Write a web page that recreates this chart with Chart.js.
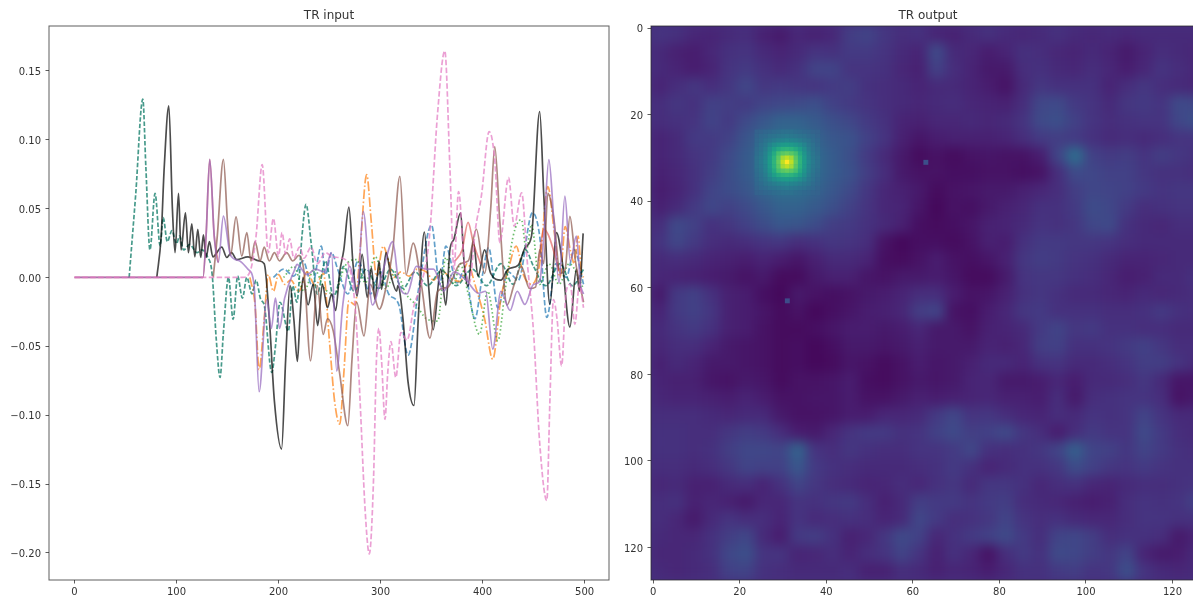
<!DOCTYPE html>
<html>
<head>
<meta charset="utf-8">
<title>TR input / TR output</title>
<script src="https://cdn.jsdelivr.net/npm/chart.js@4"></script>
<style>
html, body { margin: 0; padding: 0; width: 1193px; height: 596px; overflow: hidden; background: #fff; }
#left { position: absolute; left: 0; top: 0; }
#right { position: absolute; left: 620px; top: 0; }
/* plot rectangle of the right panel, the soft cells live in here */
#heatbox { position: absolute; left: 651px; top: 26px; width: 554px; height: 554px; overflow: hidden; background: #46307e; }
#heat { position: absolute; left: 0; top: 0; filter: blur(6px); }
</style>
</head>
<body>
<canvas id="left" width="625" height="596"></canvas>
<div id="heatbox"><canvas id="heat" width="554" height="554"></canvas></div>
<canvas id="right" width="600" height="596"></canvas>
<script>
//Line traces as [sample, amplitude] at the turning points
const blueTrace = [[195,0],[205,.006],[215,.001],[224,.012],[233,-.006],[242,.0227],[246,.002],[252,.018],[258,.006],[268,-.012],[278,.012],[290,-.012],[300,.004],[308,-.012],[318,-.02],[327,-.0565],[338,-.005],[350,.038],[358,-.005],[364,.0227],[375,-.004],[382,.005],[392.5,-.03],[400,.002],[406,.0217],[415,-.022],[425,.004],[435,-.002],[449,.047],[456,.03],[463,-.029],[472,.01],[482,0],[490,.02],[499,-.005]];
const orangeTrace = [[172,0],[177,-.02],[181,-.067],[186,-.03],[190,.002],[195,-.01],[200,.002],[206,-.005],[212,-.002],[220,-.01],[228,.004],[236,-.006],[244,.003],[250,-.047],[255,-.09],[260,-.1065],[264,-.07],[269,-.017],[275,-.02],[280,.02],[286.4,.0746],[291,.04],[296,.001],[302.6,.0227],[308,.012],[313,0],[320,.004],[328,.001],[336,.006],[345,.004],[352,-.002],[360,.005],[368,0],[378,-.003],[385,.01],[394,-.0087],[402,-.03],[410,-.0594],[418,-.015],[425,.005],[433,.0227],[440,.002],[448,-.005],[456,.01],[464,.066],[470,.035],[476,0],[481,.037],[486,.02],[490,.01],[493.6,.03],[497,.003],[499,0]];
const greenTrace = [[205,0],[215,.008],[225,-.01],[235,.006],[245,-.008],[255,-.012],[265,.008],[276.6,.013],[285,-.004],[295,.015],[305,-.008],[315,.004],[325,-.012],[335,-.02],[345,-.03],[356,-.0317],[364,.0145],[372,-.005],[378,.01],[386,-.012],[397,-.0413],[405,-.01],[415,-.046],[422,-.01],[430,.03],[438,.042],[443,.02],[448,.0385],[456,-.005],[465,.01],[475,-.005],[485,.01],[499,-.008]];
//Red only shows where nothing covers it, null leaves the hidden stretches out
const redTrace = [[0,0],[126,0],[129,.03],[132.6,.0858],[137,.03],[141,.011],[142,null],[372,null],[373,.012],[380,.02],[385.8,.04],[391,.025],[398,.01],[399,null],[454,null],[455,.012],[460,.035],[465,.03],[475,.005],[476,null]];
const purpleTrace = [[0,0],[126,0],[129,.03],[132.6,.0858],[137,.03],[141,.011],[146,.0445],[153,.016],[162,.012],[170,.006],[176,-.005],[181,-.083],[188.5,-.016],[193,-.037],[197,-.015],[201,-.037],[206,-.015],[216,.006],[218,.0095],[228,.002],[236,.006],[245,.004],[252,.018],[257,-.068],[263,-.02],[270,.008],[277,-.012],[283,.048],[292,-.02],[302,.004],[312,.026],[318,-.005],[326,-.012],[335,.008],[345,.006],[352,.006],[362,-.01],[372,.004],[384,-.002],[396,-.0115],[403,-.01],[410,-.052],[418,-.01],[427,-.024],[434,-.01],[441.5,-.0196],[450,-.005],[456,-.003],[460,.03],[465,.0855],[470,.04],[475,-.004],[480.7,.059],[486,.012],[492,.03],[496,-.005],[499,-.012]];
const brownTrace = [[136,0],[140,.03],[146,.0858],[150,.04],[153,.016],[158.4,.044],[164,.0155],[169,.0326],[173,.012],[177,.026],[182,.012],[186,.022],[191,.012],[196,.018],[201,.012],[208,.018],[214,.012],[220,.016],[225,.004],[231.5,-.0606],[238,-.006],[243.8,-.0413],[248,-.03],[253.7,-.039],[260,-.07],[268,-.1077],[272,-.06],[276.6,-.018],[283.8,-.0425],[290,-.005],[298.8,-.023],[306,-.005],[312,.02],[319,.0734],[325,.002],[332,.025],[340,-.005],[348.4,-.044],[356,-.01],[366,-.007],[378,.01],[386,.012],[394,.035],[402,.003],[408,.05],[412,.095],[417,.04],[424,-.02],[431,-.005],[438,.008],[446,-.008],[452,-.007],[456,.02],[460,.01],[464,.061],[470,.042],[476,.003],[481,.006],[485.6,.0444],[491,.012],[499,-.018]];
const pinkTrace = [[0,0],[165,0],[172,.004],[178,.03],[184,.082],[190,.018],[195,.0428],[200,.0155],[203.5,.0326],[207,.017],[211,.028],[215,.014],[220.7,.022],[225,.014],[232,.022],[238,.01],[246,.018],[253,.015],[262,.014],[270,.006],[276,-.03],[280,-.09],[285,-.17],[289,-.2007],[293,-.15],[296,-.06],[298.5,-.037],[301,-.06],[304.4,-.103],[307,-.07],[310.2,-.0465],[315,-.0727],[320,-.04],[326,-.0455],[333,-.02],[340,-.005],[348,.03],[356,.12],[363,.1645],[368,.08],[372,.006],[376.5,.0623],[382,.012],[387,-.004],[393,.035],[399,.06],[406.5,.106],[412,.085],[417,.0253],[425.5,.0725],[431,.0372],[438.3,.0614],[444,.01],[450,-.04],[456,-.12],[463,-.162],[466,-.09],[469.5,-.016],[473,-.03],[477.5,-.0642],[482,-.01],[486,-.005],[490.5,-.034],[495,-.005],[499,-.022]];
const tealTrace = [[53.6,0],[60,.06],[67,.1295],[70,.08],[74,.02],[79,.061],[84,.023],[87,.0435],[91,.026],[95.6,.034],[100,.0245],[103,.03],[107,.02],[113,.024],[120,.018],[125,.02],[130,.0155],[135,.002],[139,-.045],[142.7,-.0725],[146,-.04],[151,0],[155.5,-.0304],[160,.001],[164.6,-.015],[169,0],[174,-.012],[178,-.002],[182.6,-.016],[186,-.02],[193.4,-.069],[197,-.05],[201.5,-.018],[209.6,-.039],[214,-.006],[218,-.018],[223,.03],[227,.053],[232,.025],[238,-.012],[246,.012],[254,-.014],[264,.008],[274,-.01],[286,.006],[298,-.008],[310,.006],[322,-.008],[334,.004],[346,-.006],[360,.005],[374,-.006],[390,.006],[404,-.006],[418,.01],[430,-.005],[442,.02],[450,.008],[462,-.006],[476,.01],[488,-.006],[499,.006]];
const blackTrace = [[80.7,0],[85,.03],[88,.08],[92.5,.1246],[96,.05],[98.6,.018],[102,.061],[104.5,.02],[108.8,.047],[111.7,.018],[115,.039],[118,.015],[120.9,.035],[123.8,.0145],[126.4,.031],[129,.0145],[132.3,.026],[135.6,.015],[144.4,.022],[149.3,.0145],[154,.018],[159,.013],[170,.015],[181,.012],[186,.01],[191,-.03],[196,-.09],[203,-.1246],[207,-.06],[211.3,-.006],[215,-.03],[218.5,-.061],[221,-.03],[224,0],[229,-.02],[234,-.005],[238.4,-.035],[243,-.005],[248,-.022],[252,-.012],[256,-.024],[260,.004],[264,.02],[269,.051],[273,.01],[277,-.0135],[282,.0167],[287,-.0145],[291,.007],[294.6,-.016],[298.6,.012],[301,-.0087],[305.4,.018],[310,.002],[315.8,-.01],[317,-.006],[322,-.03],[327,-.076],[332.8,-.093],[337,-.03],[343,.033],[347,-.005],[351.6,-.038],[359,.006],[364,-.02],[368,.02],[372,.028],[378.5,.047],[382,.01],[385.7,-.0065],[391,.026],[395.6,.001],[402,.02],[408,.003],[418,-.002],[425,.006],[435,.009],[442,.022],[448,.03],[456,.1205],[460,.06],[466,-.0196],[472.5,.0326],[478,.012],[485.6,-.036],[492,.006],[495,-.01],[498.6,.032]];

const traceNames = ["blue", "orange", "green", "red", "teal", "black", "brown", "purple", "pink"];
const traces = [blueTrace, orangeTrace, greenTrace, tealTrace, blackTrace, redTrace, brownTrace, purpleTrace, pinkTrace];
const traceColors = ["rgba(31,119,180,.7)", "rgba(255,127,14,.7)", "rgba(44,160,44,.7)", "rgba(10,120,100,.75)", "rgba(0,0,0,.7)", "rgba(214,39,40,.5)", "rgba(140,86,75,.7)", "rgba(148,103,189,.7)", "rgba(227,119,194,.7)"];
const traceDashes = [[5.5,2.4], [9.6,2.4,1.5,2.4], [1.5,2.5], [4.5,2], [], [], [], [], [5.5,2.4]];

const inputXTicks = [0, 100, 200, 300, 400, 500];
const inputYTicks = [0.15, 0.10, 0.05, 0, -0.05, -0.10, -0.15, -0.20];
const outputTicksX = [0, 20, 40, 60, 80, 100, 120];
const outputTicksY = [0, 20, 40, 60, 80, 100, 120];

//Output image, one row per 4 pixels, values are percent of the colour range
const outputCoarse = [
[15,14,11,10,12,13,9,7,11,9,11,18,20,16,13,14,10,9,12,14,12,11,12,14,12,11,12,11,12,12,12,12],
[12,9,8,11,14,15,12,10,12,15,14,17,17,15,12,10,22,12,11,8,10,14,13,11,10,12,10,7,10,13,12,11],
[12,10,8,10,15,17,14,12,14,20,20,15,15,14,11,9,19,13,10,7,7,13,14,12,11,13,11,8,11,15,13,11],
[10,13,16,13,16,21,16,17,16,15,17,18,14,13,12,10,12,12,10,8,5,12,16,14,14,14,10,13,16,13,12,11],
[13,16,14,19,18,17,20,21,22,24,19,17,15,13,12,11,12,13,11,10,9,13,21,22,17,15,12,16,17,15,22,21],
[13,14,15,20,17,22,27,31,31,28,24,21,17,14,10,9,11,11,12,11,12,15,22,24,19,15,13,14,15,15,21,24],
[10,12,17,17,19,26,32,36,36,32,27,25,19,15,9,6,8,9,9,9,10,13,17,18,17,14,12,13,12,13,15,15],
[10,12,15,17,22,28,35,38,38,35,29,24,17,12,7,3,5,3,5,6,5,5,8,20,36,19,17,18,15,18,16,14],
[9,11,14,18,23,28,35,38,38,35,29,25,18,13,7,5,5,4,4,5,5,4,5,13,22,21,19,19,16,14,14,13],
[8,10,14,20,23,26,32,36,36,32,27,22,16,11,9,7,3,5,6,7,7,9,11,13,18,21,20,19,17,15,16,16],
[9,12,17,21,19,22,27,31,31,28,24,19,15,11,10,6,2,5,4,7,9,11,14,14,17,23,21,17,13,14,15,15],
[13,22,19,14,16,19,23,27,26,23,18,17,14,12,9,4,3,4,6,9,10,12,15,14,16,21,22,14,12,11,13,13],
[15,21,17,13,12,13,15,16,13,14,16,15,13,5,2,4,4,3,5,9,8,14,17,17,16,16,15,13,12,12,12,12],
[12,13,12,10,9,8,10,8,6,9,12,12,10,4,3,5,8,5,4,6,9,16,18,17,15,14,12,10,10,11,12,12],
[11,10,9,8,7,5,7,3,3,7,9,9,6,5,7,7,8,6,3,3,7,15,16,16,14,13,11,8,9,12,12,14],
[7,17,19,14,9,8,4,2,7,5,4,5,7,8,10,13,13,8,5,6,9,14,16,14,12,12,11,10,12,11,12,13],
[10,17,19,16,9,8,6,3,5,2,4,6,8,9,11,18,20,5,4,8,11,16,17,14,14,14,13,13,14,17,14,13],
[12,15,17,14,9,8,5,3,3,4,6,8,8,7,8,11,7,7,5,9,10,12,17,20,16,17,14,14,13,13,12,12],
[11,13,13,10,7,6,5,3,4,2,4,7,7,6,7,9,7,7,7,10,9,11,18,19,14,14,15,17,19,16,13,13],
[9,12,10,7,7,6,5,3,4,2,3,6,5,3,5,8,6,7,9,12,12,10,14,15,12,12,13,15,18,18,15,12],
[10,9,9,6,5,7,6,3,5,5,6,8,4,3,5,7,6,7,10,11,7,7,8,11,8,12,12,13,16,12,6,6],
[11,10,10,9,8,10,8,5,5,6,6,8,5,5,7,9,8,9,10,11,9,9,8,13,7,13,14,15,15,13,5,7],
[13,13,13,12,11,12,12,7,5,5,6,8,8,11,11,12,17,21,15,16,13,11,10,13,12,15,14,15,20,15,12,12],
[14,14,13,13,16,18,17,13,8,7,11,15,17,17,14,15,19,22,18,19,22,16,13,8,13,17,15,15,22,17,13,12],
[14,14,13,14,18,21,21,20,31,15,13,16,14,13,13,15,15,17,21,14,13,14,16,20,30,20,19,16,20,17,14,13],
[13,13,12,13,16,20,19,19,27,17,14,13,12,12,12,13,14,17,14,10,12,14,14,16,23,19,16,15,17,15,14,14],
[11,12,9,9,12,13,10,14,20,16,13,12,10,11,13,11,14,16,12,16,16,14,11,13,14,11,10,12,13,13,14,15],
[13,14,9,11,9,7,11,11,15,14,16,17,13,9,12,18,17,17,15,17,18,13,12,11,9,8,9,13,15,14,15,19],
[13,11,7,12,15,13,13,10,15,12,13,14,13,10,12,21,17,13,14,16,20,15,13,14,12,11,11,13,15,15,14,14],
[12,11,11,14,18,21,12,8,17,18,14,9,11,16,22,19,11,14,17,19,22,17,13,20,21,18,13,14,14,13,7,10],
[11,11,12,14,21,24,15,15,10,11,13,10,13,15,20,15,9,14,11,5,13,17,14,22,21,18,16,20,10,7,8,12],
[12,11,12,13,19,20,14,13,12,12,12,13,9,9,13,12,9,11,10,8,11,14,14,17,18,15,16,24,15,12,11,12]
];

//Bright spot at full resolution, pixels 24..38 both ways
const outputPeak = [
[31,32,33,34,35,36,37,37,37,36,35,34,33,32,31],
[32,34,35,37,38,39,40,41,40,39,38,37,35,34,32],
[33,35,38,40,42,44,45,46,45,44,42,40,38,35,33],
[34,37,40,45,49,52,54,55,54,52,49,45,40,37,34],
[35,38,42,49,56,61,64,65,64,61,56,49,42,38,35],
[36,39,44,52,61,70,74,76,74,70,61,52,44,39,36],
[37,40,45,54,64,74,86,90,86,74,64,54,45,40,37],
[37,41,46,55,65,76,90,100,90,76,65,55,46,41,37],
[37,40,45,54,64,74,86,90,86,74,64,54,45,40,37],
[36,39,44,52,61,70,74,76,74,70,61,52,44,39,36],
[35,38,42,49,56,61,64,65,64,61,56,49,42,38,35],
[34,37,40,45,49,52,54,55,54,52,49,45,40,37,34],
[33,35,38,40,42,44,45,46,45,44,42,40,38,35,33],
[32,34,35,37,38,39,40,41,40,39,38,37,35,34,32],
[31,32,33,34,35,36,37,37,37,36,35,34,33,32,31]
];
//Two lone pixels: [column, row, percent]
const outputSpots = [[63, 31, 24], [31, 63, 23]];

//viridis, every 5 percent
const viridis = ["#440154","#471365","#482475","#463480","#414487","#3b528b","#355f8d","#2f6c8e","#2a788e","#25848e","#21918c","#1e9c89","#22a884","#2fb47c","#44bf70","#5ec962","#7ad151","#9bd93c","#bddf26","#dfe318","#fde725"];

function hexToRgb(h) {
    return [parseInt(h.slice(1, 3), 16), parseInt(h.slice(3, 5), 16), parseInt(h.slice(5, 7), 16)];
}
function colorOf(percent) {
    let p = Math.min(99.99, Math.max(0, percent)) / 5;
    let i = Math.floor(p);
    let a = hexToRgb(viridis[i]);
    let b = hexToRgb(viridis[i + 1]);
    let f = p - i;
    return `rgb(${a.map((v, k) => Math.round(v + (b[k] - v) * f)).join(",")})`;
}

const font = { family: "'DejaVu Sans'", size: 10 };
const textColor = "#333";
const spineColor = "rgba(40,40,40,.75)";

//Box round the plot, chart.js only has the axis edges
const spines = {
    id: "spines",
    afterDraw(chart) {
        const a = chart.chartArea;
        const c = chart.ctx;
        c.save();
        c.strokeStyle = spineColor;
        c.lineWidth = 1;
        c.strokeRect(a.left, a.top, a.right - a.left, a.bottom - a.top);
        c.restore();
    }
};

function axis(position, min, max, values, label, size, reverse) {
    return {
        type: "linear",
        position: position,
        min: min,
        max: max,
        reverse: !!reverse,
        afterBuildTicks: (s) => { s.ticks = values.map((v) => ({ value: v })); },
        afterFit: (s) => {
            if (position === "bottom") s.height = size;
            else s.width = size;
        },
        grid: { drawOnChartArea: false, drawTicks: true, tickLength: 3.5, color: "#333", tickWidth: 0.8 },
        border: { display: false },
        ticks: {
            color: textColor,
            font: font,
            padding: position === "bottom" ? 3 : 4.5,
            labelOffset: position === "bottom" ? 0 : 1.5,
            autoSkip: false,
            maxRotation: 0,
            includeBounds: false,
            callback: label
        }
    };
}

function titleOf(text) {
    return {
        display: true,
        text: text,
        color: textColor,
        fullSize: false,
        font: { family: "'DejaVu Sans'", size: 12, weight: "normal", lineHeight: 1.2 },
        padding: { top: 8.6, bottom: 3 }
    };
}

new Chart(document.getElementById("left"), {
    type: "scatter",
    plugins: [spines],
    data: {
        datasets: traces.map((t, i) => ({
            label: traceNames[i],
            data: t.map((p) => ({ x: p[0], y: p[1] })),
            showLine: true,
            pointRadius: 0,
            borderWidth: 1.7,
            borderColor: traceColors[i],
            borderDash: traceDashes[i],
            cubicInterpolationMode: "monotone",
            order: traces.length - i
        }))
    },
    options: {
        responsive: false,
        animation: false,
        layout: { padding: { right: 16 } },
        plugins: { legend: { display: false }, tooltip: { enabled: false }, title: titleOf("TR input") },
        scales: {
            x: axis("bottom", -24.95, 523.95, inputXTicks, (v) => String(v), 16),
            y: axis("left", -0.2197, 0.1826, inputYTicks, (v) => (v < 0 ? "\u2212" : "") + Math.abs(v).toFixed(2), 49)
        }
    }
});

const coarseCells = [];
outputCoarse.forEach((row, r) => row.forEach((v, c) => coarseCells.push({ x: c * 4 + 1.5, y: r * 4 + 1.5, v: v })));
const fineCells = [];
outputPeak.forEach((row, r) => row.forEach((v, c) => fineCells.push({ x: c + 24, y: r + 24, v: v })));
outputSpots.forEach((s) => fineCells.push({ x: s[0], y: s[1], v: s[2] }));

const cellStyle = (size) => ({
    showLine: false,
    pointStyle: "rect",
    pointRadius: (c) => (Math.abs(c.chart.scales.x.getPixelForValue(size) - c.chart.scales.x.getPixelForValue(0)) + 0.6) / Math.SQRT2,
    pointBorderWidth: 0,
    pointBackgroundColor: (c) => colorOf(c.raw.v)
});

//Coarse cells on their own canvas under the axes, css blur softens them
new Chart(document.getElementById("heat"), {
    type: "scatter",
    data: { datasets: [Object.assign({ label: "coarse", data: coarseCells }, cellStyle(4))] },
    options: {
        responsive: false,
        animation: false,
        plugins: { legend: { display: false }, tooltip: { enabled: false } },
        scales: {
            x: { type: "linear", display: false, min: -0.5, max: 127.5 },
            y: { type: "linear", display: false, min: -0.5, max: 127.5, reverse: true }
        }
    }
});

new Chart(document.getElementById("right"), {
    type: "scatter",
    plugins: [spines],
    data: { datasets: [Object.assign({ label: "fine", data: fineCells }, cellStyle(1))] },
    options: {
        responsive: false,
        animation: false,
        layout: { padding: { right: 15 } },
        plugins: { legend: { display: false }, tooltip: { enabled: false }, title: titleOf("TR output") },
        scales: {
            x: axis("bottom", -0.5, 127.5, outputTicksX, (v) => String(v), 16),
            y: axis("left", -0.5, 127.5, outputTicksY, (v) => String(v), 31, true)
        }
    }
});
</script>
</body>
</html>
